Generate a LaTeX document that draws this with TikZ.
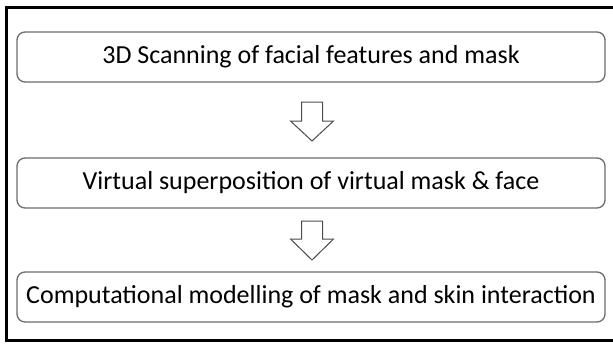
\documentclass[tikz,border=0pt]{standalone}
\usepackage{fontspec}
\setmainfont{Carlito}
\usepackage{tikz}
\usetikzlibrary{positioning}

\begin{document}
\begin{tikzpicture}[
    x=1pt, y=-1pt,
    block/.style={rectangle, draw=gray!85!black, line width=1.3pt, fill=white, rounded corners=8pt, minimum width=588pt, minimum height=50pt, align=center, font=\fontsize{26}{30}\selectfont},
    blockarrow/.style={draw=gray!60!black, line width=1pt, fill=white, line join=miter},
    frame/.style={draw=black, line width=3pt},
]
    \clip (0,0) rectangle (613,343);
    \useasboundingbox (0,0) rectangle (613,343);
    \draw[frame] (6,7) rectangle (625,340);

    \node[block] (scan) at (311,57) {3D Scanning of facial features and mask};
    \node[block] (superpose) at (311,183) {Virtual superposition of virtual mask \& face};
    \node[block] (model) at (311,297) {Computational modelling of mask and skin interaction};

    % hollow block arrows between the steps
    \coordinate (a1) at (312,102);
    \coordinate (a2) at (312,221);
    \draw[blockarrow] ([xshift=-10.5pt]a1) -- ++(0,19) -- ++(-11,0) -- ++(21.5,20) -- ++(21.5,-20) -- ++(-11,0) -- ++(0,-19) -- cycle;
    \draw[blockarrow] ([xshift=-10.5pt]a2) -- ++(0,18) -- ++(-11,0) -- ++(21.5,21) -- ++(21.5,-21) -- ++(-11,0) -- ++(0,-18) -- cycle;
\end{tikzpicture}
\end{document}
